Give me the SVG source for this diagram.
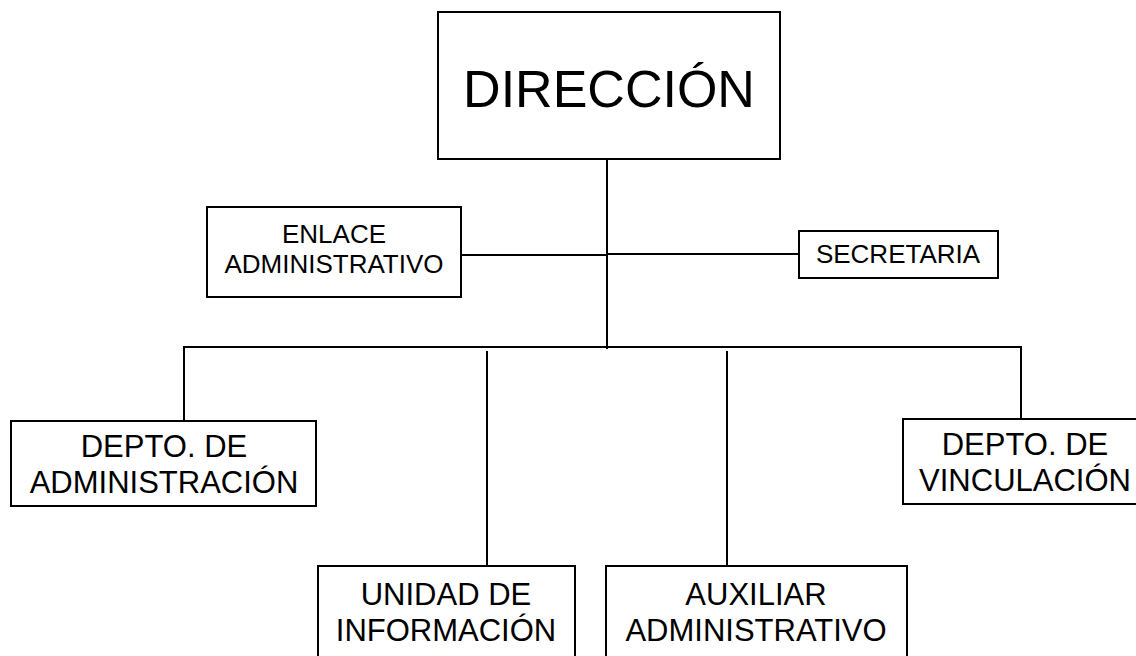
<svg xmlns="http://www.w3.org/2000/svg" width="1136" height="656" viewBox="0 0 1136 656">
<style>
.box{fill:#fff;stroke:#000;stroke-width:2}
.ln{stroke:#000;stroke-width:2;fill:none}
text{font-family:"Liberation Sans",Arial,sans-serif;fill:#000;text-anchor:middle}
.s{font-size:26px}
.m{font-size:31px}
.l{font-size:52px}
</style>
<rect width="1136" height="656" fill="#fff"/>
<g id="connectors">
<line class="ln" x1="607" y1="159" x2="607" y2="349"/>
<line class="ln" x1="461" y1="255" x2="607" y2="255"/>
<line class="ln" x1="607" y1="254" x2="799" y2="254"/>
<line class="ln" x1="183" y1="347" x2="1022" y2="347"/>
<line class="ln" x1="184" y1="347" x2="184" y2="421"/>
<line class="ln" x1="1021" y1="347" x2="1021" y2="419"/>
<line class="ln" x1="487" y1="351" x2="487" y2="566"/>
<line class="ln" x1="727" y1="351" x2="727" y2="566"/>
</g>
<g id="direccion">
<rect class="box" x="438" y="12" width="342" height="147"/>
<text class="l" x="609" y="107">DIRECCIÓN</text>
</g>
<g id="enlace">
<rect class="box" x="207" y="207" width="254" height="90"/>
<text class="s" x="334" y="243">ENLACE</text>
<text class="s" x="334" y="273">ADMINISTRATIVO</text>
</g>
<g id="secretaria">
<rect class="box" x="799" y="231" width="199" height="47"/>
<text class="s" x="898" y="263">SECRETARIA</text>
</g>
<g id="depto-admin">
<rect class="box" x="11" y="421" width="305" height="85"/>
<text class="m" x="164" y="457">DEPTO. DE</text>
<text class="m" x="164" y="493">ADMINISTRACIÓN</text>
</g>
<g id="depto-vinc">
<rect class="box" x="903" y="419" width="245" height="85"/>
<text class="m" x="1025" y="455">DEPTO. DE</text>
<text class="m" x="1025" y="491">VINCULACIÓN</text>
</g>
<g id="unidad">
<rect class="box" x="318" y="566" width="257" height="100"/>
<text class="m" x="446" y="605">UNIDAD DE</text>
<text class="m" x="446" y="641">INFORMACIÓN</text>
</g>
<g id="auxiliar">
<rect class="box" x="606" y="566" width="301" height="100"/>
<text class="m" x="756" y="605">AUXILIAR</text>
<text class="m" x="756" y="641">ADMINISTRATIVO</text>
</g>
</svg>
